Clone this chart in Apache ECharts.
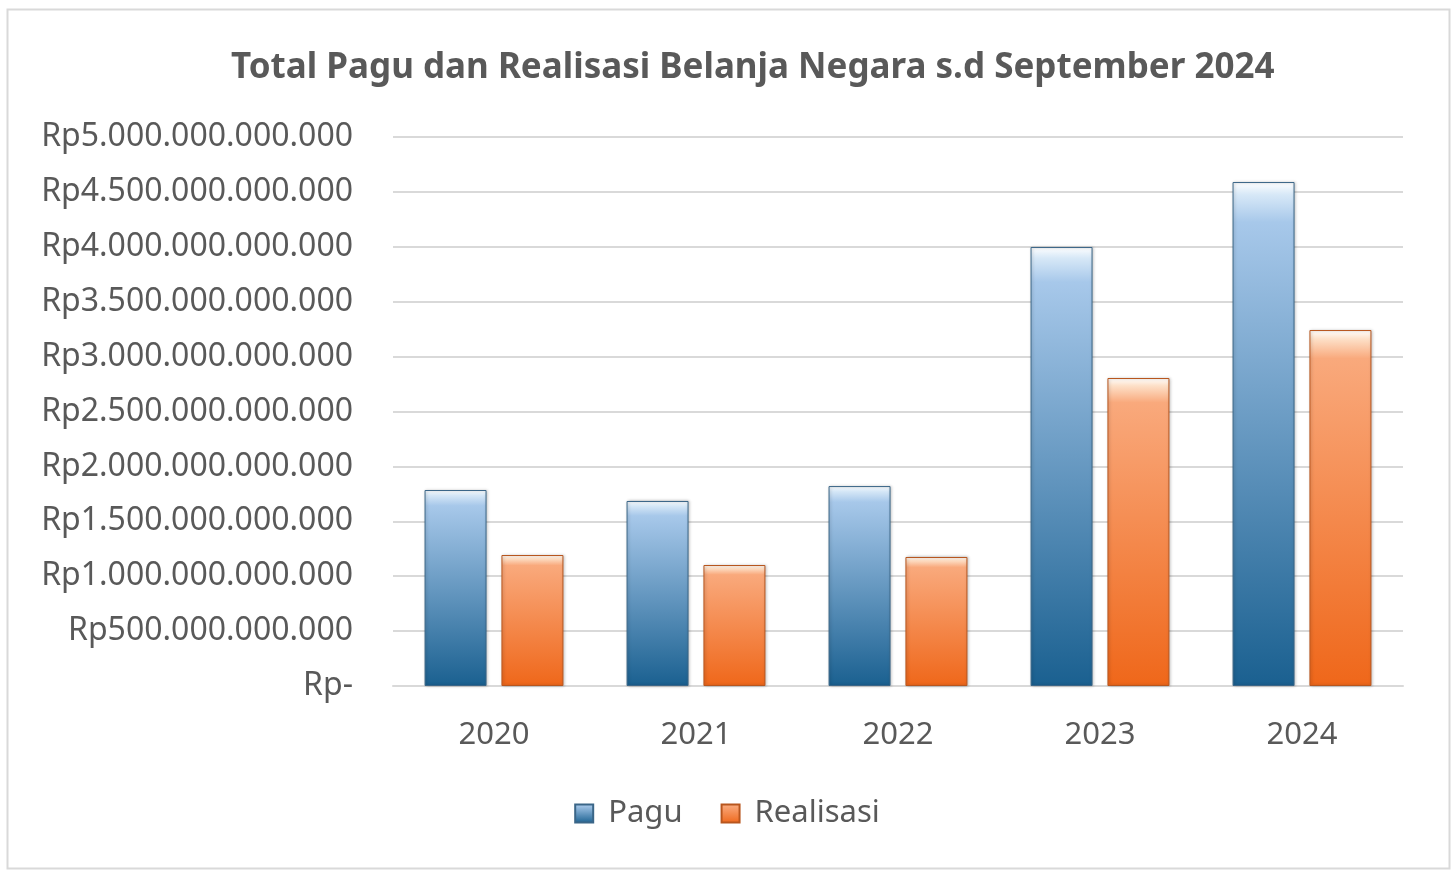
<!DOCTYPE html>
<html>
<head>
<meta charset="utf-8">
<title>Total Pagu dan Realisasi Belanja Negara</title>
<script src="https://cdn.jsdelivr.net/npm/echarts@6/dist/echarts.min.js"></script>
<style>
  html, body { margin: 0; padding: 0; background: #fff; }
  #main { width: 1454px; height: 870px; }
</style>
</head>
<body>
<div id="main"></div>
<script>
// data
const years = ['2020', '2021', '2022', '2023', '2024']
const pagu = [1785000000000, 1685000000000, 1821000000000, 3998000000000, 4590000000000]
const realisasi = [1193000000000, 1102000000000, 1175000000000, 2805000000000, 3242000000000]
const seriesNames = ['Pagu', 'Realisasi']

const FONT = '"Noto Sans", "Open Sans", sans-serif'
const TEXT = '#595959'

// Rp5.000.000.000.000 style, zero becomes Rp-
const rupiah = (v) => {
  if (v === 0) return 'Rp-'
  return 'Rp' + String(Math.round(v)).replace(/\B(?=(\d{3})+(?!\d))/g, '.')
}

const grad = (top, mid, bottom) =>
  new echarts.graphic.LinearGradient(0, 0, 0, 1, [
    { offset: 0, color: '#ffffff' },
    { offset: 0.025, color: top },
    { offset: 0.08, color: mid },
    { offset: 1, color: bottom },
  ])

const chart = echarts.init(document.getElementById('main'))

const option = {
  backgroundColor: '#fff',
  animation: false,
  title: {
    text: 'Total Pagu dan Realisasi Belanja Negara s.d September 2024',
    left: 226,
    top: 46,
    textStyle: {
      color: TEXT,
      fontFamily: FONT,
      fontWeight: 'bold',
      fontSize: 35,
    },
  },
  legend: {
    bottom: 36,
    left: 'center',
    icon: 'rect',
    itemWidth: 18,
    itemHeight: 18,
    itemGap: 38,
    textStyle: {
      color: TEXT,
      fontFamily: FONT,
      fontSize: 31,
      padding: [0, 0, 0, 10],
    },
    data: seriesNames,
  },
  grid: {
    left: 393,
    right: 51,
    top: 137,
    bottom: 184,
  },
  xAxis: {
    type: 'category',
    data: years,
    axisLine: { show: true, lineStyle: { color: '#d9d9d9', width: 2 } },
    axisTick: { show: false },
    axisLabel: {
      color: TEXT,
      fontFamily: FONT,
      fontSize: 31,
      margin: 34,
    },
  },
  yAxis: {
    type: 'value',
    min: 0,
    max: 5000000000000,
    interval: 500000000000,
    axisLine: { show: false },
    axisTick: { show: false },
    splitLine: { lineStyle: { color: '#d9d9d9', width: 2 } },
    axisLabel: {
      color: TEXT,
      fontFamily: FONT,
      fontSize: 32,
      margin: 40,
      formatter: rupiah,
    },
  },
  series: [
    {
      name: seriesNames[0],
      type: 'bar',
      barWidth: 62,
      barGap: '24%',
      data: pagu,
      itemStyle: {
        color: grad('#d7e8f7', '#a7c8ea', '#1a6090'),
        borderColor: '#3b6688',
        borderWidth: 1,
        shadowColor: 'rgba(0,0,0,0.25)',
        shadowBlur: 3,
        shadowOffsetX: 1,
      },
    },
    {
      name: seriesNames[1],
      type: 'bar',
      barWidth: 62,
      data: realisasi,
      itemStyle: {
        color: grad('#fde0c8', '#f9a97c', '#ef671a'),
        borderColor: '#b8561e',
        borderWidth: 1,
        shadowColor: 'rgba(0,0,0,0.25)',
        shadowBlur: 3,
        shadowOffsetX: 1,
      },
    },
  ],
  graphic: [
    {
      type: 'rect',
      left: 5,
      top: 7,
      shape: { width: 1442, height: 859 },
      style: { fill: 'none', stroke: '#d9d9d9', lineWidth: 2 },
      silent: true,
    },
  ],
}

chart.setOption(option)
</script>
</body>
</html>
